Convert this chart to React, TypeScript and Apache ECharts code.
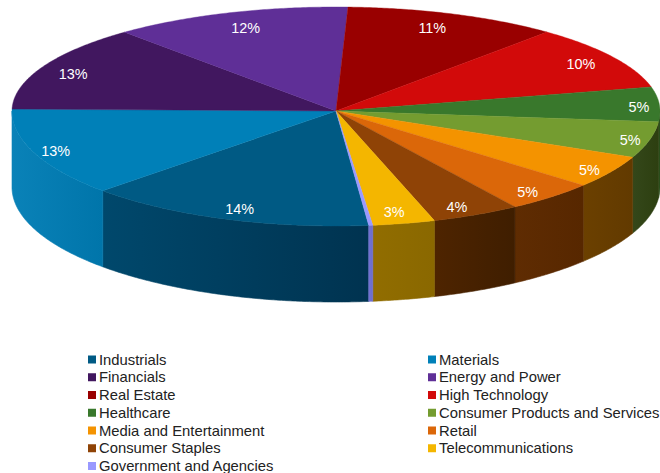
import React, { useEffect, useRef } from "react";
import * as echarts from "echarts";

// Sectors in clockwise drawing order, beginning at the Industrials edge.
const sectors = [
  "Industrials",
  "Materials",
  "Financials",
  "Energy and Power",
  "Real Estate",
  "High Technology",
  "Healthcare",
  "Consumer Products and Services",
  "Media and Entertainment",
  "Retail",
  "Consumer Staples",
  "Telecommunications",
  "Government and Agencies",
];
const shares = [14.4, 12.5, 13.4, 11.9, 10.7, 10, 5.2, 5.1, 4.6, 4.5, 4.4, 3.1, 0.2];
const topColors = [
  "#005a84", "#0080b8", "#41175f", "#5f2f97", "#990000", "#d20a0a", "#39782c",
  "#749c30", "#f49300", "#db6709", "#8f4306", "#f4b600", "#9999ff",
];
const wallLeft = [
  "#00486c", "#0a82b8", "#2a0f3e", "#3e1f62", "#640000", "#8a0606", "#2a4f1c",
  "#34471a", "#6b4000", "#5f2c02", "#4e2400", "#916d00", "#7272d2",
];
const wallRight = [
  "#003350", "#0075aa", "#2a0f3e", "#3e1f62", "#640000", "#8a0606", "#2a4f1c",
  "#2d3f10", "#623a00", "#572700", "#3f1e00", "#8a6800", "#6c6cc8",
];
const legendLeft = sectors.filter((_, i) => i % 2 === 0);
const legendRight = sectors.filter((_, i) => i % 2 === 1);

const FONT = '"Liberation Sans", Arial, sans-serif';
const CX = 336;
const CY = 111;
const RX = 324;
const RY_BACK = 104;
const RY_FRONT = 115;
const DEPTH = 76;
const START_DEG = 84.2;
const LABEL_RADIUS = 0.9;
// Hand placement of each percentage relative to the mid-angle anchor.
const labelNudge = [
  [4, 1], [-9, 2], [1, 3], [6, 5], [-10, 4], [-4, 2], [12, 3], [12, 3], [6, 4], [-2, 4], [-5, 3], [-3, 0], [0, 0],
];

const rad = (d: number) => (d * Math.PI) / 180;
const rimX = (deg: number, k = 1) => CX + Math.cos(rad(deg)) * RX * k;
const rimY = (deg: number, k = 1) => {
  const s = Math.sin(rad(deg));
  return CY + s * (s < 0 ? RY_BACK : RY_FRONT) * k;
};

function arcPoints(from: number, to: number, dy = 0) {
  const pts: number[][] = [];
  const steps = Math.max(2, Math.ceil((to - from) / 0.5));
  for (let i = 0; i <= steps; i++) {
    const deg = from + ((to - from) * i) / steps;
    pts.push([rimX(deg), rimY(deg) + dy]);
  }
  return pts;
}

const total = shares.reduce((a, b) => a + b, 0);
const sectorAngles = shares.map((_, i) => {
  const before = shares.slice(0, i).reduce((a, b) => a + b, 0);
  return [
    START_DEG + (before / total) * 360,
    START_DEG + ((before + shares[i]) / total) * 360,
  ];
});

function renderSector(index: number) {
  const [a0, a1] = sectorAngles[index];
  const children: any[] = [];

  // Front wall: only the part of the sector that faces the viewer.
  for (const base of [0, 360]) {
    const from = Math.max(a0, base);
    const to = Math.min(a1, base + 180);
    if (to > from) {
      const top = arcPoints(from, to);
      const bottom = arcPoints(from, to, DEPTH).reverse();
      const fill = new echarts.graphic.LinearGradient(0, 0, 1, 0, [
        { offset: 0, color: wallLeft[index] },
        { offset: 1, color: wallRight[index] },
      ]);
      children.push({
        type: "polygon",
        shape: { points: [...top, ...bottom] },
        style: { fill, stroke: fill, lineWidth: 0.6 },
      });
    }
  }

  // Top face.
  children.push({
    type: "polygon",
    z2: 5,
    shape: { points: [[CX, CY], ...arcPoints(a0, a1)] },
    style: { fill: topColors[index], stroke: topColors[index], lineWidth: 0.4 },
  });

  // Percentage label on the top face.
  const pct = Math.round(shares[index]);
  if (shares[index] >= 1) {
    const mid = (a0 + a1) / 2;
    children.push({
      type: "text",
      z2: 10,
      style: {
        text: `${pct}%`,
        x: rimX(mid, LABEL_RADIUS) + labelNudge[index][0],
        y: rimY(mid, LABEL_RADIUS) + labelNudge[index][1],
        fill: "#ffffff",
        font: `14.4px ${FONT}`,
        align: "center",
        verticalAlign: "middle",
      },
    });
  }
  return { type: "group", children };
}

const legendBase = {
  orient: "vertical" as const,
  top: 352,
  height: 140,
  icon: "rect",
  itemWidth: 8,
  itemHeight: 8,
  itemGap: 2.75,
  padding: 0,
  textStyle: {
    fontFamily: FONT,
    fontSize: 14.8,
    lineHeight: 14,
    color: "#222222",
    padding: [0, 0, 0, -2],
  },
};

export default function App() {
  const ref = useRef<HTMLDivElement>(null);
  useEffect(() => {
    document.body.style.margin = "0";
    const chart = echarts.init(ref.current!, undefined, { renderer: "svg" });
    chart.setOption({
      animation: false,
      backgroundColor: "#ffffff",
      legend: [
        { ...legendBase, left: 88, data: legendLeft },
        { ...legendBase, left: 428, data: legendRight },
      ],
      series: sectors.map((name, i) => ({
        type: "custom",
        name,
        coordinateSystem: "none",
        silent: true,
        itemStyle: { color: topColors[i] },
        data: [shares[i]],
        renderItem: () => renderSector(i),
      })),
    });
    return () => chart.dispose();
  }, []);
  return (
    <div
      ref={ref}
      style={{ position: "fixed", left: 0, top: 0, width: 660, height: 473 }}
    />
  );
}
